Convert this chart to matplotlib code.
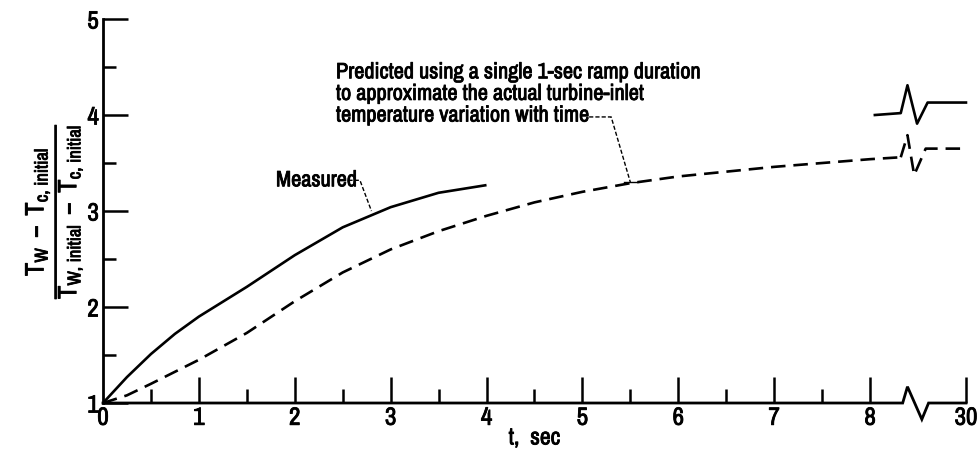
import matplotlib
matplotlib.use('Agg')
import matplotlib.pyplot as plt
import matplotlib.patheffects as pe
from matplotlib import font_manager

# readings (t in sec, ratio dimensionless)
t_measured = [0, 0.25, 0.5, 0.75, 1.0, 1.5, 2.0, 2.5, 3.0, 3.5, 4.0]
r_measured = [1, 1.27, 1.51, 1.72, 1.90, 2.21, 2.54, 2.83, 3.04, 3.19, 3.27]

t_predicted = [0, 0.25, 0.5, 1.0, 1.5, 2.0, 2.5, 3.0, 3.5, 4.0, 4.5, 5.0, 5.5, 6.0, 6.5, 7.0, 7.5, 8.0, 8.32]
r_predicted = [1, 1.08, 1.20, 1.45, 1.73, 2.06, 2.36, 2.60, 2.79, 2.95, 3.09, 3.20, 3.29, 3.36, 3.41, 3.46, 3.50, 3.54, 3.56]

# values at t = 30 sec (drawn after the axis break)
t_meas_30 = [8.05, 8.32]
r_meas_30 = [4.0, 4.02]
r_meas_final = 4.13
r_pred_final = 3.65

x_ticks = [0, 1, 2, 3, 4, 5, 6, 7, 8, 9]
x_labels = ['0', '1', '2', '3', '4', '5', '6', '7', '8', '30']
y_ticks = [1, 2, 3, 4, 5]

# look for a narrow sans face, like the lettering on the original
font, stretch = 'Liberation Sans', 'normal'
for f in font_manager.fontManager.ttflist:
    if f.style != 'normal':
        continue
    if 'Narrow' in f.name or 'Condensed' in f.name:
        font, stretch = f.name, f.stretch
        break
    if f.name == 'DejaVu Sans' and 'condensed' in str(f.stretch):
        font, stretch = f.name, 'condensed'
plt.rcParams['font.family'] = [font, 'DejaVu Sans']
plt.rcParams['font.stretch'] = stretch
plt.rcParams['mathtext.fontset'] = 'custom'
plt.rcParams['mathtext.rm'] = font
plt.rcParams['mathtext.it'] = font
plt.rcParams['mathtext.sf'] = font

# thicker strokes for the lettering, the original is inked heavier
heavy = [pe.Stroke(linewidth=0.6, foreground='black'), pe.Normal()]

fig = plt.figure(figsize=(9.77, 4.54), dpi=100)
ax = fig.add_axes([0.1054, 0.1123, 0.8833, 0.8458])
ax.set_xlim(0, 9)
ax.set_ylim(1, 5)

lw = 1.9
ax.plot(t_measured, r_measured, color='black', lw=lw, solid_capstyle='butt')
ax.plot(t_predicted, r_predicted, color='black', lw=lw, dashes=(5.5, 3))

# break symbols between 8 and 30 sec
ax.plot(t_meas_30 + [8.39, 8.49, 8.60, 9.0],
        r_meas_30 + [4.31, 3.91, r_meas_final, r_meas_final],
        color='black', lw=lw, clip_on=False)
ax.plot([8.32, 8.39, 8.46, 8.58, 9.0],
        [r_predicted[-1], 3.79, 3.375, r_pred_final, r_pred_final],
        color='black', lw=lw, dashes=(5.5, 3), clip_on=False)

# x axis line with its own break
ax.spines['bottom'].set_visible(False)
ax.spines['top'].set_visible(False)
ax.spines['right'].set_visible(False)
ax.spines['left'].set_linewidth(2.0)
ax.plot([0, 8.34, 8.39, 8.54, 8.61, 9.0], [1, 1, 1.17, 0.83, 1, 1],
        color='black', lw=2.0, clip_on=False, solid_joinstyle='miter')

ax.set_xticks(x_ticks)
ax.set_xticklabels(x_labels)
ax.set_xticks([0.5, 1.5, 2.5, 3.5, 4.5, 5.5, 6.5, 7.5], minor=True)
ax.set_yticks(y_ticks)
ax.set_yticks([1.5, 2.5, 3.5, 4.5], minor=True)
ax.tick_params(axis='x', which='major', direction='in', length=19, width=1.8,
               labelsize=18, pad=2)
ax.tick_params(axis='x', which='minor', direction='in', length=10, width=1.8)
ax.tick_params(axis='y', which='major', direction='in', length=18, width=1.8,
               labelsize=18, pad=3)
ax.tick_params(axis='y', which='minor', direction='in', length=9, width=1.8)
ax.xaxis.get_major_ticks()[0].tick1line.set_visible(False)

ax.set_xlabel('t,  sec', fontsize=17, labelpad=-1)
ax.set_ylabel(r'$\dfrac{\mathrm{T_W\ -\ T_{c,\,initial}}}{\mathrm{T_{W,\,initial}\ -\ T_{c,\,initial}}}$',
              fontsize=19, labelpad=2)

# annotations with dashed leaders
ax.text(2.65, 3.32, 'Measured', fontsize=16, ha='right', va='center')
ax.plot([2.56, 2.68, 2.80], [3.32, 3.32, 3.0], color='black', lw=1.0, dashes=(3, 1.5))

ax.text(2.43, 4.22, 'Predicted using a single 1-sec ramp duration\n'
        'to approximate the actual turbine-inlet\n'
        'temperature variation with time', fontsize=16, ha='left', va='center',
        linespacing=1.1)
ax.plot([5.07, 5.30, 5.50], [3.98, 3.98, 3.30], color='black', lw=1.0, dashes=(3, 1.5))
ax.plot([5.43, 5.57], [3.30, 3.30], color='black', lw=1.0)

for txt in ax.texts + ax.get_xticklabels() + ax.get_yticklabels() + [ax.xaxis.label, ax.yaxis.label]:
    txt.set_path_effects(heavy)

fig.savefig('out.png', dpi=100)
